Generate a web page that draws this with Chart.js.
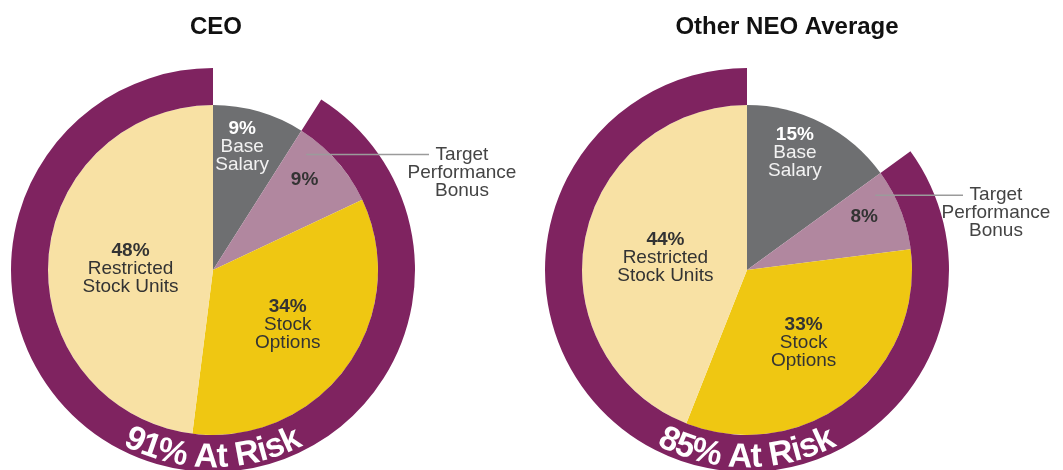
<!DOCTYPE html>
<html lang="en">
<head>
  <meta charset="UTF-8">
  <title>Pay Mix - CEO and Other NEO Average</title>
  <script src="https://cdn.jsdelivr.net/npm/chart.js"></script>
  <style>
    html, body { margin: 0; padding: 0; background: #fff; overflow: hidden; }
    body { width: 1063px; height: 470px; position: relative; font-family: "Liberation Sans", Arial, sans-serif; }
    canvas { position: absolute; top: 0; }
    #ceo { left: 0; }
    #neo { left: 531px; }
  </style>
</head>
<body>
  <canvas id="ceo" width="532" height="500"></canvas>
  <canvas id="neo" width="532" height="500"></canvas>

  <script>
    // data
    const categories = ['Base Salary', 'Target Performance Bonus', 'Stock Options', 'Restricted Stock Units'];
    const ceoValues = [9, 9, 34, 48];
    const neoValues = [15, 8, 33, 44];
    const chartTitles = ['CEO', 'Other NEO Average'];
    const atRiskValues = [91, 85];
    const sliceNames = [['Base', 'Salary'], null, ['Stock', 'Options'], ['Restricted', 'Stock Units']];
    const calloutLines = ['Target', 'Performance', 'Bonus'];

    const colors = ['#6e6f71', '#b1879f', '#efc712', '#f8e1a4'];
    const ringColor = '#7f2360';
    const FONT = '"Liberation Sans", Arial, sans-serif';

    // where each slice's text sits: share of the pie radius, share of the slice's sweep
    const labelRadius = [0.77, 0.78, 0.56, 0.5];
    const labelSweep = [0.41, 0.4, 0.5, 0.485];

    const pieLabels = {
      id: 'pieLabels',
      afterDatasetsDraw(chart, args, opts) {
        const ctx = chart.ctx;
        const pie = chart.getDatasetMeta(1).data;
        const ring = chart.getDatasetMeta(0).data[1];
        const cx = pie[0].x, cy = pie[0].y, R = pie[0].outerRadius;
        const values = chart.data.datasets[1].data;

        ctx.save();
        ctx.textAlign = 'center';
        ctx.textBaseline = 'middle';

        // title
        ctx.fillStyle = '#111';
        ctx.font = 'bold 24px ' + FONT;
        ctx.fillText(opts.title, opts.titleX, 27);

        // slice texts
        pie.forEach((arc, i) => {
          const ang = arc.startAngle + labelSweep[i] * (arc.endAngle - arc.startAngle);
          const r = R * labelRadius[i];
          const x = cx + r * Math.cos(ang);
          const y = cy + r * Math.sin(ang);
          const lines = sliceNames[i] ? [values[i] + '%'].concat(sliceNames[i]) : [values[i] + '%'];
          const top = y - (lines.length - 1) * 18 / 2;
          lines.forEach((t, k) => {
            ctx.font = (k === 0 ? 'bold ' : '') + '19px ' + FONT;
            ctx.fillStyle = i === 0 ? (k === 0 ? '#ffffff' : '#f2f2f2') : '#333333';
            ctx.fillText(t, x, top + k * 18);
          });
        });

        // callout for the bonus slice
        const b = pie[1];
        const a = b.startAngle + 0.2 * (b.endAngle - b.startAngle);
        const px = cx + R * 0.9 * Math.cos(a);
        const py = cy + R * 0.9 * Math.sin(a);
        const tx = cx + ring.outerRadius + 47;
        ctx.strokeStyle = '#9b9b9b';
        ctx.lineWidth = 1.5;
        ctx.beginPath();
        ctx.moveTo(px, py);
        ctx.lineTo(tx - 33, py);
        ctx.stroke();
        ctx.fillStyle = '#444';
        ctx.font = '19px ' + FONT;
        calloutLines.forEach((t, k) => ctx.fillText(t, tx, py + k * 18));

        // curved "At Risk" text along the bottom of the ring
        const text = opts.risk + '% At Risk';
        ctx.font = 'bold 34px ' + FONT;
        ctx.fillStyle = '#ffffff';
        ctx.textBaseline = 'alphabetic';
        const rb = ring.outerRadius - 5;
        const widths = [...text].map(c => ctx.measureText(c).width * 0.96);
        const total = widths.reduce((s, w) => s + w, 0);
        let acc = 0;
        [...text].forEach((c, k) => {
          const th = Math.PI / 2 + total / 2 / rb - (acc + widths[k] / 2) / rb;
          acc += widths[k];
          ctx.save();
          ctx.translate(cx + rb * Math.cos(th), cy + rb * Math.sin(th));
          ctx.rotate(th - Math.PI / 2);
          ctx.fillText(c, 0, 0);
          ctx.restore();
        });

        ctx.restore();
      }
    };

    function makeChart(id, values, idx, pad, titleX) {
      new Chart(document.getElementById(id), {
        type: 'pie',
        data: {
          labels: categories,
          datasets: [{
            label: 'At Risk',
            data: [100 - atRiskValues[idx], atRiskValues[idx]],
            backgroundColor: ['rgba(0,0,0,0)', ringColor],
            borderWidth: 0,
            weight: 37
          }, {
            label: chartTitles[idx],
            data: values,
            backgroundColor: colors,
            borderWidth: 0,
            weight: 165
          }]
        },
        options: {
          responsive: false,
          animation: false,
          events: [],
          layout: { padding: pad },
          plugins: {
            legend: { display: false },
            tooltip: { enabled: false },
            pieLabels: { title: chartTitles[idx], titleX: titleX, risk: atRiskValues[idx] }
          }
        },
        plugins: [pieLabels]
      });
    }

    makeChart('ceo', ceoValues, 0, { left: 11, right: 117, top: 68, bottom: 28 }, 216);
    makeChart('neo', neoValues, 1, { left: 14, right: 114, top: 68, bottom: 28 }, 256);
  </script>
</body>
</html>
